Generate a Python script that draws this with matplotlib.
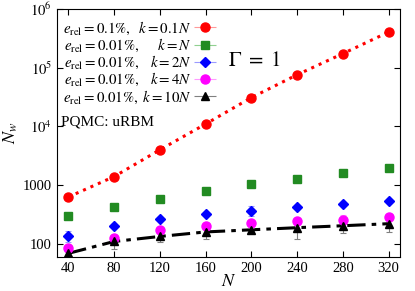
import numpy as np
import matplotlib
matplotlib.use("Agg")
import matplotlib.pyplot as plt
from matplotlib.legend_handler import HandlerErrorbar

plt.rcParams['font.family'] = ['Liberation Serif', 'DejaVu Serif']
plt.rcParams['mathtext.fontset'] = 'stix'

N = [40, 80, 120, 160, 200, 240, 280, 320]

# number of walkers for each setting
nw_01_k01 = [630, 1400, 4000, 11000, 31000, 76000, 174000, 405000]
nw_k1 = [295, 430, 590, 800, 1030, 1300, 1610, 1990]
nw_k2 = [137, 199, 267, 320, 370, 422, 476, 545]
nw_k4 = [86, 128, 170, 204, 224, 246, 252, 282]
nw_k10 = [69, 110, 134, 160, 174, 189, 204, 221]

err_01_k01 = [10, 20, 40, 100, 300, 700, 1500, 3000]
err_k1 = [5, 8, 10, 12, 15, 20, 25, 30]
err_k2 = [30, 12, 10, 12, 70, 15, 12, 10]
err_k4 = [8, 15, 12, 10, 15, 30, 60, 15]
err_k10 = [5, 28, 26, 37, 10, 70, 50, 60]

labels = [r"$e_{\rm rel} = 0.1\%,\hspace{0.6}k = 0.1N$",
          r"$e_{\rm rel} = 0.01\%,\hspace{1.55}k = N$",
          r"$e_{\rm rel} = 0.01\%,\hspace{0.9}k = 2N$",
          r"$e_{\rm rel} = 0.01\%,\hspace{0.9}k = 4N$",
          r"$e_{\rm rel} = 0.01\%,\hspace{0.3}k = 10N$"]

fig = plt.figure(figsize=(4.15, 2.91), dpi=100)
ax = fig.add_axes([0.137, 0.117, 0.827, 0.852])

# fit lines
ax.plot(N, nw_01_k01, ':', color='red', lw=2.2, zorder=2)
ax.plot(N, nw_k10, linestyle=(0, (6, 2, 1.5, 2)), color='black', lw=2.2, zorder=2)

series = [
    (nw_01_k01, err_01_k01, 'o', 'red', '#ff9a9a', 6.5),
    (nw_k1, err_k1, 's', '#228b22', '#90d090', 6),
    (nw_k2, err_k2, 'D', 'blue', '#9a9aff', 4.8),
    (nw_k4, err_k4, 'o', 'magenta', '#ff9aff', 6.5),
    (nw_k10, err_k10, '^', 'black', 'gray', 6),
]

for (y, e, m, c, ec, ms), lab in zip(series, labels):
    ax.errorbar(N, y, yerr=e, fmt=m, color=c, ecolor=ec, ms=ms,
                elinewidth=0.8, capsize=2, capthick=0.8, zorder=3)
    # legend proxy with horizontal bar like gnuplot key
    ax.errorbar([], [], xerr=[], fmt=m, color=c, ecolor=ec, ms=ms,
                elinewidth=0.8, capsize=2, capthick=0.8, label=lab)

ax.set_yscale('log')
ax.set_xlim(30, 330)
ax.set_ylim(60, 1e6)
ax.set_xticks(N)
ax.set_yticks([100, 1000, 1e4, 1e5, 1e6])
ax.set_yticklabels(['100', '1000', r'$10^4$', r'$10^5$', r'$10^6$'])
ax.minorticks_off()
ax.tick_params(direction='in', top=True, right=True, labelsize=10.5, length=4)
ax.set_xlabel(r'$N$', fontsize=13, labelpad=-1)
ax.set_ylabel(r'$N_w$', fontsize=13, labelpad=2)

ax.legend(loc='upper right', bbox_to_anchor=(0.496, 1.0), frameon=False,
          markerfirst=False, fontsize=10.8, labelspacing=0.0, handlelength=1.55,
          handletextpad=0.1, borderpad=0.2,
          handler_map={type(ax.containers[-1]): HandlerErrorbar(xerr_size=0.75)})

ax.text(0.50, 0.77, r'$\Gamma\ =\ 1$', transform=ax.transAxes, fontsize=15)
ax.text(0.012, 0.53, 'PQMC: uRBM', transform=ax.transAxes, fontsize=11)

fig.savefig('out.png', dpi=100)
